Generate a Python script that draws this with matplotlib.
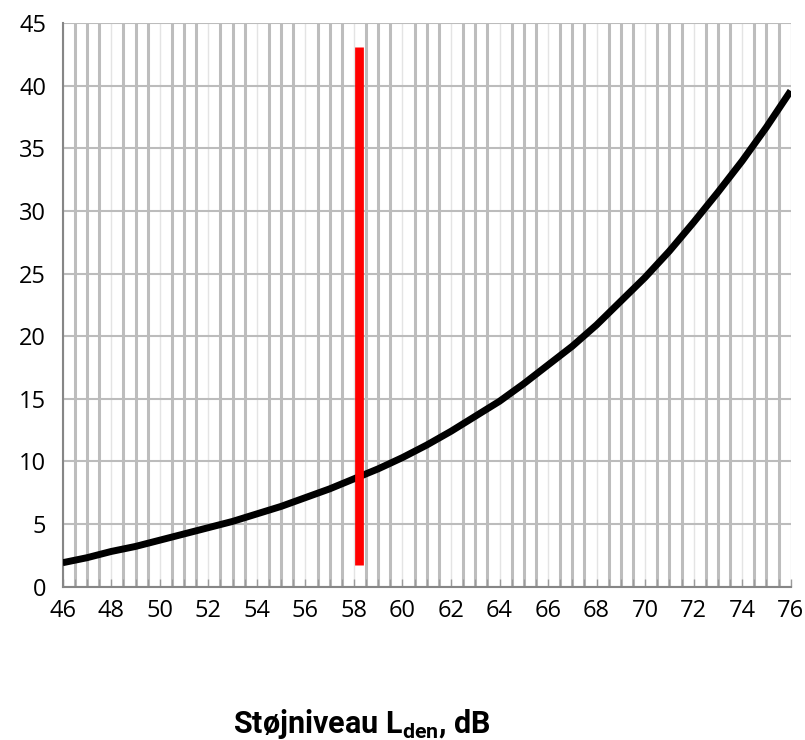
import matplotlib
matplotlib.use("Agg")
import matplotlib.pyplot as plt
from matplotlib.ticker import MultipleLocator

# Data
lden = [46, 47, 48, 49, 50, 51, 52, 53, 54, 55, 56, 57, 58, 59, 60, 61,
        62, 63, 64, 65, 66, 67, 68, 69, 70, 71, 72, 73, 74, 75, 76]
annoyed = [1.9, 2.3, 2.8, 3.2, 3.7, 4.2, 4.7, 5.2, 5.8, 6.4, 7.1, 7.8, 8.6, 9.4, 10.3, 11.3,
           12.4, 13.6, 14.8, 16.2, 17.7, 19.2, 20.9, 22.8, 24.7, 26.8, 29.1, 31.5, 34.0, 36.7, 39.6]
marker_x = [58.2, 58.2]
marker_y = [1.7, 43.1]
xticks = list(range(46, 77, 2))
yticks = list(range(0, 46, 5))

plt.rcParams['font.family'] = ['Open Sans', 'DejaVu Sans']
plt.rcParams['xtick.labelsize'] = 17
plt.rcParams['ytick.labelsize'] = 17
plt.rcParams['mathtext.fontset'] = 'custom'
plt.rcParams['mathtext.rm'] = 'Roboto:bold'
plt.rcParams['mathtext.it'] = 'Roboto:bold'
plt.rcParams['mathtext.bf'] = 'Roboto:bold'

fig = plt.figure(figsize=(8.05, 7.4), dpi=100)
ax = fig.add_axes([62.7 / 805, 1 - 586.5 / 740, (790.7 - 62.7) / 805, (586.5 - 23.3) / 740])

ax.set_xlim(46, 76)
ax.set_ylim(0, 45)
ax.set_xticks(xticks)
ax.set_xticklabels([str(v) for v in xticks], fontsize=17, family=['Open Sans', 'DejaVu Sans'])
ax.set_yticks(yticks)
ax.set_yticklabels([str(v) for v in yticks], fontsize=17, family=['Open Sans', 'DejaVu Sans'])
ax.xaxis.set_minor_locator(MultipleLocator(0.5))

# grid
ax.grid(which='minor', axis='x', color='#bdbdbd', linewidth=2.2, zorder=0)
ax.grid(which='major', axis='x', color='#e4e4e4', linewidth=1.0, zorder=0)
ax.grid(which='major', axis='y', color='#bcbcbc', linewidth=1.5, zorder=0)
ax.set_axisbelow(True)

for side in ['top', 'right']:
    ax.spines[side].set_visible(False)
for side in ['left', 'bottom']:
    ax.spines[side].set_color('#868686')
    ax.spines[side].set_linewidth(1.5)

ax.tick_params(axis='x', which='major', direction='in', length=6, width=1, color='#9a9a9a',
               pad=9, labelcolor='black')
ax.tick_params(axis='x', which='minor', direction='in', length=6, width=1, color='#9a9a9a')
ax.tick_params(axis='y', which='major', length=0, pad=12, labelcolor='black')

ax.plot(lden, annoyed, color='black', linewidth=5, solid_capstyle='butt',
        solid_joinstyle='round', zorder=3)
ax.plot(marker_x, marker_y, color='#ff0000', linewidth=6.3, solid_capstyle='butt', zorder=4)

fig.text(0.45, 0.0095, r'Støjniveau L$_{\mathrm{den}}$, dB', ha='center', va='baseline',
         fontsize=22, fontweight='bold', family=['Roboto', 'DejaVu Sans'])

fig.savefig('out.png', dpi=100)
